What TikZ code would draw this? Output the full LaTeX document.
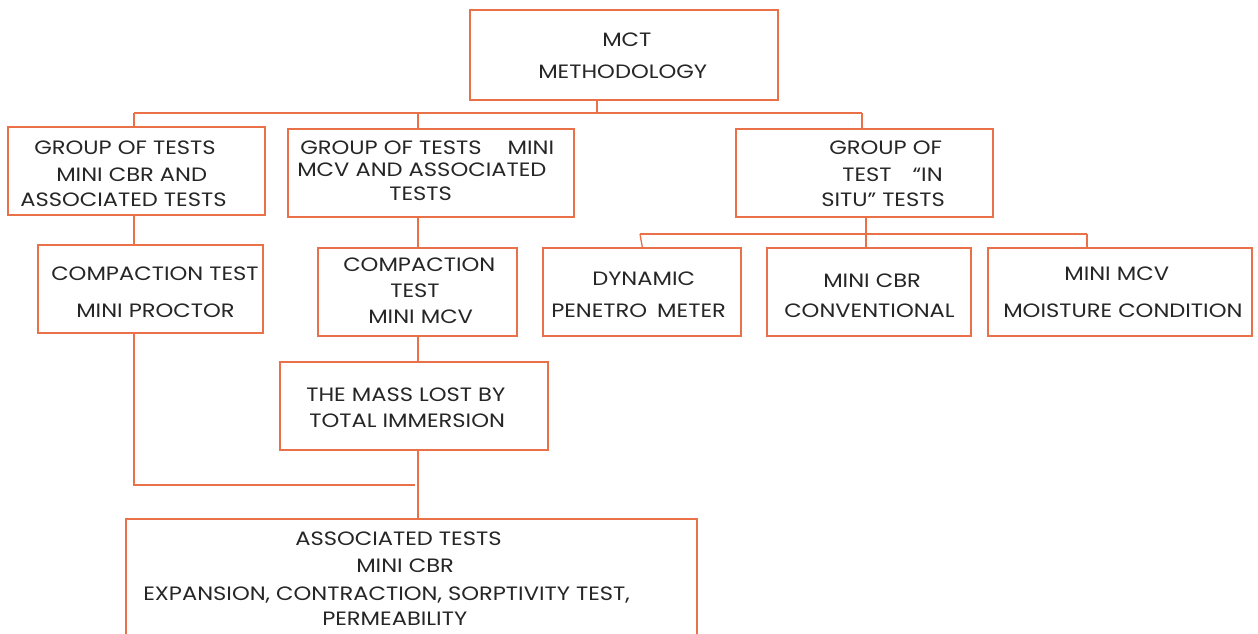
\documentclass[tikz,border=0pt]{standalone}
\usepackage{fontspec}
\setmainfont{Poppins}[FakeStretch=1.17]
\usetikzlibrary{calc}
\newdimen\pxu \pxu=0.75pt
\definecolor{edge}{HTML}{EA7048}
\definecolor{ink}{HTML}{262626}
\newcommand\boxnode[5]{\node[box, minimum width={(#4-#2)*0.75pt}, minimum height={(#5-#3)*0.75pt}] (#1) at ({(#2+#4)/2},{(#3+#5)/2}) {};}
\tikzset{
  box/.style={draw=edge, line width=1pt, inner sep=0pt, fill=none},
  txt/.style={anchor=base west, inner sep=0pt, align=left, text=ink, font=\fontsize{14.5}{19.5}\selectfont},
  link/.style={draw=edge, line width=1pt}
}
\begin{document}
\begin{tikzpicture}[x=0.75pt, y=-0.75pt]
\useasboundingbox[fill=white] (0,0) rectangle (1258,634);
% boxes
\boxnode{mct}{470}{10}{778}{100}
\boxnode{A}{8}{127}{265}{215}
\boxnode{B}{288}{129}{574}{217}
\boxnode{C}{736}{129}{993}{217}
\boxnode{D}{38}{245}{263}{333}
\boxnode{E}{318}{248}{517}{336}
\boxnode{F}{543}{248}{741}{336}
\boxnode{G}{767}{248}{971}{336}
\boxnode{H}{988}{248}{1252}{336}
\boxnode{I}{280}{362}{548}{450}
\boxnode{J}{126}{519}{697}{660}
% texts (anchored at the baseline of the last line)
\node[txt] (mctT) at (538,79) {\hspace*{64\pxu}MCT\\[6\pxu]METHODOLOGY};
\node[txt] (AT) at (20,207) {\hspace*{14\pxu}GROUP OF TESTS\\[1\pxu]\hspace*{36\pxu}MINI CBR AND\\[-1\pxu]ASSOCIATED TESTS};
\node[txt] (BT) at (297,201) {\hspace*{3\pxu}GROUP OF TESTS\hspace{26\pxu}MINI\\[-4\pxu]MCV AND ASSOCIATED\\[-2\pxu]\hspace*{92\pxu}TESTS};
\node[txt] (CT) at (821,207) {\hspace*{8\pxu}GROUP OF\\[1\pxu]\hspace*{21\pxu}TEST\hspace{21\pxu}“IN\\[-1\pxu]SITU” TESTS};
\node[txt] (DT) at (51,318) {COMPACTION TEST\\[11\pxu]\hspace*{25\pxu}MINI PROCTOR};
\node[txt] (ET) at (343,324) {COMPACTION\\\hspace*{47\pxu}TEST\\\hspace*{25\pxu}MINI MCV};
\node[txt] (FT) at (551,318) {\hspace*{41\pxu}DYNAMIC\\[6\pxu]PENETRO\hspace{10\pxu}METER};
\node[txt] (GT) at (784,318) {\hspace*{39\pxu}MINI CBR\\[4\pxu]CONVENTIONAL};
\node[txt] (HT) at (1003,318) {\hspace*{61\pxu}MINI MCV\\[11\pxu]MOISTURE CONDITION};
\node[txt] (IT) at (306,428) {THE MASS LOST BY\\\hspace*{3\pxu}TOTAL IMMERSION};
\node[txt] (JT) at (143,626) {\hspace*{152\pxu}ASSOCIATED TESTS\\[1\pxu]\hspace*{213\pxu}MINI CBR\\[2\pxu]EXPANSION, CONTRACTION, SORPTIVITY TEST,\\[-1\pxu]\hspace*{179\pxu}PERMEABILITY};
% connectors
\coordinate (top) at (597,113);
\coordinate (busL) at (134,113);
\coordinate (busM) at (418,113);
\coordinate (busR) at (862,113);
\coordinate (join) at (415,485);
\coordinate (bus2L) at (640,234);
\coordinate (bus2M) at (866,234);
\coordinate (bus2R) at (1087,234);
\draw[link] (mct.south -| top) -- (top);
\draw[link] (busL) -- (busR);
\draw[link] (busL) -- (busL |- A.north);
\draw[link] (busM) -- (busM |- B.north);
\draw[link] (busR) -- (busR |- C.north);
\draw[link] (busL |- A.south) -- (busL |- D.north);
\draw[link] (busM |- B.south) -- (busM |- E.north);
\draw[link] (busM |- E.south) -- (busM |- I.north);
\draw[link] (busM |- I.south) -- (busM |- J.north);
\draw[link] (busL |- D.south) -- (busL |- join) -- (join);
\draw[link] (bus2M |- C.south) -- (bus2M |- G.north);
\draw[link] (bus2L) -- (bus2R);
\draw[link] (bus2L) -- ($(F.north west)+(100,0)$);
\draw[link] (bus2R) -- (bus2R |- H.north);
\end{tikzpicture}
\end{document}
